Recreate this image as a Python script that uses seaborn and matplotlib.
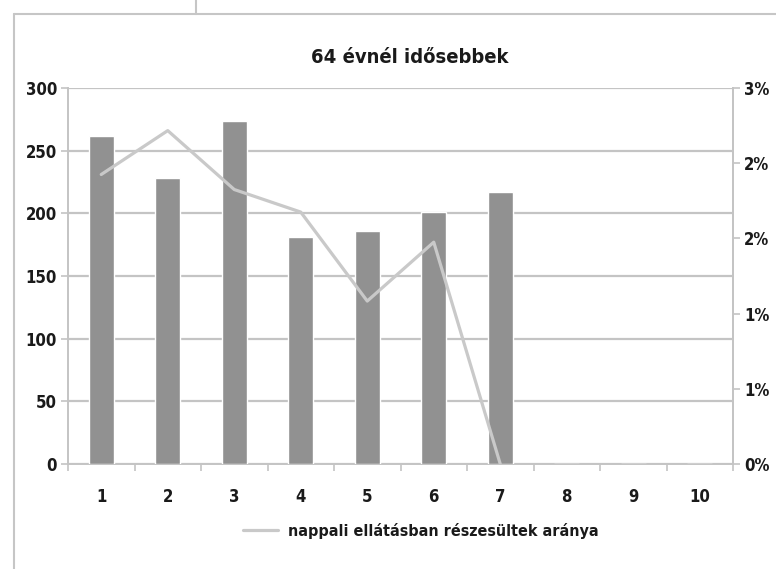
import numpy as np
import pandas as pd
import matplotlib
matplotlib.use("Agg")
import matplotlib.pyplot as plt
from matplotlib.lines import Line2D
from matplotlib.ticker import FuncFormatter
import seaborn as sns

# Data
categories = ["1", "2", "3", "4", "5", "6", "7", "8", "9", "10"]
counts = [262, 228, 274, 181, 186, 201, 217, 0, 0, 0]
rate_pct = [2.31, 2.66, 2.19, 2.01, 1.30, 1.77, 0.0]
title = "64 évnél idősebbek"
line_label = "nappali ellátásban részesültek aránya"
left_ticks = [0, 50, 100, 150, 200, 250, 300]
right_ticks_pct = [0, 0.6, 1.2, 1.8, 2.4, 3.0]

sns.set_theme(style="white")
plt.rcParams["font.family"] = ["DejaVu Sans"]
plt.rcParams["font.stretch"] = "condensed"
plt.rcParams["font.weight"] = "bold"

BAR = "#919191"
LINE = "#c9c9c9"
GRID = "#c4c4c4"
TXT = "#1a1a1a"

fig = plt.figure(figsize=(7.76, 5.69), dpi=100)
fig.patch.set_facecolor("white")
ax = fig.add_axes([68 / 776, 1 - 464 / 569, (733 - 68) / 776, (464 - 88) / 569])

df = pd.DataFrame({"cat": categories, "count": counts})
sns.barplot(data=df, x="cat", y="count", color=BAR, width=0.38,
            saturation=1, ax=ax, zorder=3)
ax.set_xlim(-0.5, len(categories) - 0.5)
ax.set_ylim(0, 300)
ax.set_yticks(left_ticks)
ax.yaxis.grid(True, color=GRID, linewidth=1.6, zorder=0)
ax.set_axisbelow(True)
ax.set_xlabel("")
ax.set_ylabel("")

ax.spines["top"].set_visible(False)
for s in ["left", "right", "bottom"]:
    ax.spines[s].set_color(GRID)
    ax.spines[s].set_linewidth(1.4)

# tick marks between categories on the x axis
ax.set_xticks(np.arange(len(categories)))
ax.set_xticklabels(categories)
ax.set_xticks(np.arange(len(categories) + 1) - 0.5, minor=True)
ax.tick_params(axis="x", which="major", length=0, pad=17, labelsize=12, labelcolor=TXT)
ax.tick_params(axis="x", which="minor", length=5, width=1.2, color=GRID,
               direction="out", bottom=True)
ax.tick_params(axis="y", length=5, width=1.2, color=GRID, direction="out",
               pad=3, labelsize=12, labelcolor=TXT, left=True)

ax2 = ax.twinx()
rates = np.array(rate_pct) / 100.0
sns.lineplot(x=np.arange(len(rates)), y=rates, color=LINE, linewidth=2.3,
             ax=ax2, zorder=4)
ax2.set_ylim(0, 0.03)
ax2.set_yticks(np.array(right_ticks_pct) / 100.0)
ax2.yaxis.set_major_formatter(FuncFormatter(lambda v, p: f"{v * 100:.0f}%"))
ax2.tick_params(axis="y", length=5, width=1.2, color=GRID, direction="out",
                pad=3, labelsize=12, labelcolor=TXT, right=True)
ax2.set_ylabel("")
for s in ["top", "left", "bottom"]:
    ax2.spines[s].set_visible(False)
ax2.spines["right"].set_color(GRID)
ax2.spines["right"].set_linewidth(1.4)
ax2.grid(False)

fig.text(410 / 776, 1 - 57 / 569, title, ha="center", va="center",
         fontsize=14.5, fontweight="bold", color=TXT)

handle = Line2D([0], [0], color=LINE, linewidth=2.3)
fig.legend([handle], [line_label], loc="center", bbox_to_anchor=(421 / 776, 1 - 531 / 569),
           frameon=False, fontsize=11.5, handlelength=2.2, handletextpad=0.6,
           labelcolor=TXT)

# outer chart frame
frame_kw = dict(color="#c6c6c6", linewidth=1.5, transform=fig.transFigure)
fig.add_artist(Line2D([14 / 776, 14 / 776], [0, 1 - 14 / 569], **frame_kw))
fig.add_artist(Line2D([14 / 776, 1], [1 - 14 / 569, 1 - 14 / 569], **frame_kw))
fig.add_artist(Line2D([196 / 776, 196 / 776], [1 - 14 / 569, 1], **frame_kw))

fig.savefig("out.png", dpi=100, facecolor="white")
